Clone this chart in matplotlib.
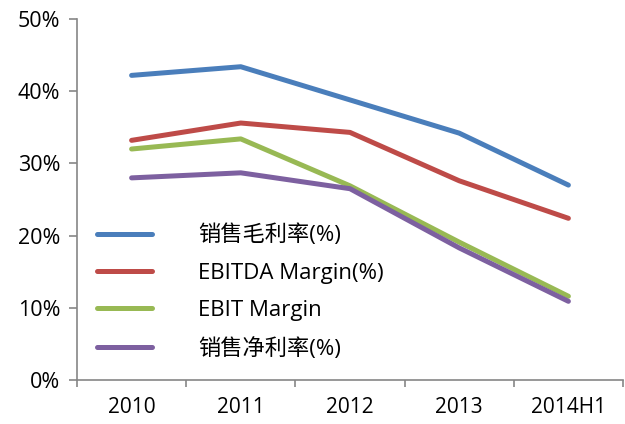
import matplotlib
matplotlib.use("Agg")
import matplotlib.pyplot as plt

plt.rcParams['font.family'] = ['Open Sans', 'Noto Sans CJK SC', 'DejaVu Sans']

categories = ["2010", "2011", "2012", "2013", "2014H1"]
gross_margin = [42.2, 43.4, 38.8, 34.2, 27.0]
ebitda_margin = [33.2, 35.6, 34.3, 27.6, 22.4]
ebit_margin = [32.0, 33.4, 26.9, 19.1, 11.6]
net_margin = [28.0, 28.7, 26.5, 18.3, 10.9]
series_names = ["销售毛利率(%)", "EBITDA Margin(%)", "EBIT Margin", "销售净利率(%)"]
colors = ["#4A7EBB", "#BE4B48", "#98B954", "#7D60A0"]
yticks = [0, 10, 20, 30, 40, 50]

fig = plt.figure(figsize=(6.25, 4.24), dpi=100)
ax = fig.add_axes([0.1232, 0.1038, 0.8736, 0.8512])

x = list(range(len(categories)))
for vals, name, c in zip([gross_margin, ebitda_margin, ebit_margin, net_margin], series_names, colors):
    ax.plot(x, vals, color=c, lw=3.6, solid_capstyle='round', solid_joinstyle='round', label=name)

ax.set_xlim(-0.5, len(categories) - 0.5)
ax.set_ylim(0, 50)
ax.set_yticks(yticks)
ax.set_yticklabels([f"{v}%" for v in yticks], fontsize=15.5)
ax.set_xticks(x)
ax.set_xticklabels(categories, fontsize=15)
ax.set_xticks([i - 0.5 for i in range(len(categories) + 1)], minor=True)
ax.tick_params(axis='x', which='major', length=0, pad=12)
ax.tick_params(axis='x', which='minor', length=5, color='#868686', width=1.2)
ax.tick_params(axis='y', length=6, color='#868686', width=1.2, pad=6)

for s in ['top', 'right']:
    ax.spines[s].set_visible(False)
for s in ['left', 'bottom']:
    ax.spines[s].set_color('#868686')
    ax.spines[s].set_linewidth(1.2)

leg = ax.legend(loc='upper left', bbox_to_anchor=(0.02, 0.455), frameon=False, fontsize=16,
                handlelength=2.5, handletextpad=2.07, labelspacing=0.74, borderaxespad=0)

fig.savefig("out.png", dpi=100)
